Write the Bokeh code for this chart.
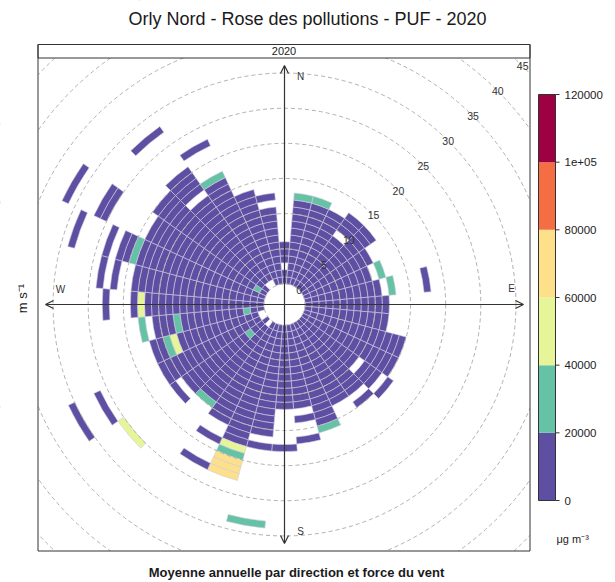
import numpy as np
from bokeh.plotting import figure
from bokeh.models import Range1d, ColumnDataSource, Arrow, OpenHead
from bokeh.core.properties import value
from bokeh.embed import file_html
from bokeh.resources import INLINE

# ---------------- data ----------------
TITLE = "Orly Nord - Rose des pollutions - PUF - 2020"
PANEL = "2020"
FOOTER = "Moyenne annuelle par direction et force du vent"
YLABEL = "m s\u207b\u00b9"
UNITS = "\u03bcg m\u207b\u00b3"

# colour classes of the key (µg m-3) and their colours
breaks = [0, 20000, 40000, 60000, 80000, 100000, 120000]
break_labels = ["0", "20000", "40000", "60000", "80000", "1e+05", "120000"]
palette = ["#5E4FA2", "#66C2A5", "#E6F598", "#FEE08B", "#F46D43", "#9E0142"]

# runs of cells: wind direction sector (deg), first and last wind-speed bin (m/s), mean PUF
seg_wd = [0, 0,
          10, 10, 20, 20, 30, 40, 40, 50, 60, 70, 70, 80, 80, 80, 90, 100, 110, 120,
          130, 130, 130, 140, 140, 150, 160, 160, 170, 170, 170, 180, 180,
          190, 190, 190, 200, 200, 200, 200, 210, 210, 210, 220, 220,
          230, 230, 230, 230, 230, 240, 240, 240, 250, 250, 250, 250,
          260, 260, 260, 260, 260, 260, 270, 270, 270, 270,
          280, 280, 280, 290, 290, 290, 290, 290, 300, 300, 300, 300, 300,
          310, 320, 320, 320, 330, 330, 330, 340, 350, 350]
seg_from = [0, 3,
            0, 12, 0, 12, 0, 0, 10, 0, 0, 0, 11, 0, 12, 17, 0, 0, 0, 0,
            0, 11, 15, 0, 14, 0, 0, 15, 0, 13, 16, 0, 17,
            0, 17, 28, 0, 18, 19, 20, 0, 18, 22, 1, 14,
            0, 3, 4, 16, 25, 1, 26, 30, 1, 13, 14, 15,
            0, 2, 3, 12, 13, 17, 0, 17, 18, 22,
            0, 21, 23, 0, 19, 20, 23, 28, 0, 1, 2, 25, 31,
            0, 1, 17, 27, 1, 17, 22, 0, 0, 12]
seg_to = [1, 5,
          11, 12, 11, 12, 11, 8, 12, 12, 10, 9, 11, 10, 12, 17, 11, 11, 14, 14,
          9, 13, 15, 12, 14, 12, 14, 15, 11, 13, 16, 11, 17,
          15, 17, 28, 17, 18, 19, 22, 15, 18, 22, 13, 14,
          2, 3, 14, 16, 25, 16, 26, 30, 12, 13, 14, 16,
          1, 2, 11, 12, 15, 17, 16, 17, 18, 22,
          18, 21, 23, 18, 19, 21, 23, 28, 0, 1, 18, 26, 31,
          19, 15, 20, 27, 16, 17, 22, 13, 10, 12]
seg_puf = [10000, 10000,
           10000, 30000, 10000, 30000, 10000, 10000, 10000, 10000, 10000, 10000, 30000, 10000, 30000, 10000, 10000, 10000, 10000, 10000,
           10000, 10000, 10000, 10000, 10000, 10000, 10000, 30000, 10000, 10000, 10000, 10000, 10000,
           10000, 10000, 30000, 10000, 50000, 30000, 70000, 10000, 10000, 10000, 10000, 30000,
           10000, 30000, 10000, 10000, 50000, 10000, 10000, 10000, 10000, 50000, 30000, 10000,
           10000, 30000, 10000, 30000, 10000, 30000, 10000, 50000, 10000, 10000,
           10000, 10000, 10000, 10000, 30000, 10000, 10000, 10000, 10000, 30000, 10000, 10000, 10000,
           10000, 10000, 10000, 10000, 10000, 30000, 10000, 10000, 10000, 10000]

grid_ws = [0, 5, 10, 15, 20, 25, 30, 35, 40, 45]
compass = ["N", "E", "S", "W"]

# ---------------- geometry ----------------
S = 492 / 70.0          # pixels per m/s
OFF = 2.93              # inner offset of the rose (m/s units)
W, H = 615, 582


def X(px):
    return (px - 284) / S


def Y(py):
    return (304 - py) / S


FONT = "Liberation Sans"

p = figure(width=W, height=H, x_range=Range1d(X(0), X(W)), y_range=Range1d(Y(H), Y(0)),
           output_backend="svg", toolbar_location=None, min_border=0,
           x_axis_location=None, y_axis_location=None)
p.grid.visible = False
p.outline_line_color = None
p.background_fill_color = "white"
p.border_fill_color = "white"

# ---- cells
inner, outer, start, end, colors = [], [], [], [], []
for wd, a, b, v in zip(seg_wd, seg_from, seg_to, seg_puf):
    ci = min(int(v // 20000), len(palette) - 1)
    for k in range(a, b + 1):
        inner.append(OFF + k)
        outer.append(OFF + k + 1)
        start.append(np.radians(90 - wd - 5))
        end.append(np.radians(90 - wd + 5))
        colors.append(palette[ci])
cells = ColumnDataSource(dict(x=[0] * len(inner), y=[0] * len(inner), inner=inner, outer=outer,
                              start=start, end=end, color=colors))
p.annular_wedge(x="x", y="y", inner_radius="inner", outer_radius="outer",
                start_angle="start", end_angle="end", fill_color="color",
                line_color="#cfcde0", line_width=0.6, source=cells)

# ---- dashed grid circles
p.circle(x=[0] * len(grid_ws), y=[0] * len(grid_ws), radius=[OFF + g for g in grid_ws],
         fill_color=None, line_color="#b0b0b0", line_width=1, line_dash="4 3")

# ---- panel limits
PL, PR, PB, PT = X(37.5), X(529.5), Y(550.5), Y(57.5)
ST = Y(44)

# ---- masks outside the panel
big = 200
p.quad(left=[X(0) - big, PR, X(0) - big, X(0) - big], right=[PL, X(W) + big, X(W) + big, X(W) + big],
       bottom=[Y(H) - big, Y(H) - big, Y(H) - big, PT],
       top=[Y(0) + big, Y(0) + big, PB, Y(0) + big],
       fill_color="white", line_color=None)

# ---- axes with arrows
R_AX = 34.0
for xs, ys, xe, ye in [(0, -R_AX, 0, R_AX), (-R_AX, 0, R_AX, 0)]:
    p.add_layout(Arrow(start=OpenHead(size=8, line_color="#333333", line_width=1.2),
                       end=OpenHead(size=8, line_color="#333333", line_width=1.2),
                       x_start=xs, y_start=ys, x_end=xe, y_end=ye,
                       line_color="#333333", line_width=1.2))

cx = [X(300), X(511), X(300), X(60)]
cy = [Y(76), Y(288), Y(531), Y(289)]
p.text(x=cx, y=cy, text=compass, text_font=value(FONT), text_font_size="10px",
       text_color="#333333", text_align="center", text_baseline="middle")

# ---- wind speed labels along the NE diagonal
lab_r = [OFF + g for g in grid_ws]
p.text(x=[r / np.sqrt(2) for r in lab_r], y=[r / np.sqrt(2) for r in lab_r],
       text=[str(g) for g in grid_ws], text_font=value(FONT), text_font_size="10.5px",
       text_color="#333333", text_align="center", text_baseline="middle")

# ---- panel border and strip
p.quad(left=[PL], right=[PR], bottom=[PT], top=[ST], fill_color="white",
       line_color="#333333", line_width=1)
p.quad(left=[PL], right=[PR], bottom=[PB], top=[ST], fill_color=None,
       line_color="#333333", line_width=1)
p.text(x=[(PL + PR) / 2], y=[(PT + ST) / 2], text=[PANEL], text_font=value(FONT),
       text_font_size="11px", text_color="#222222", text_align="center", text_baseline="middle")

# ---- colour key
CB_L, CB_R, CB_B, CB_T = X(538), X(555), Y(500), Y(94)
ky = [CB_B + (b - breaks[0]) / (breaks[-1] - breaks[0]) * (CB_T - CB_B) for b in breaks]
p.quad(left=[CB_L] * len(palette), right=[CB_R] * len(palette), bottom=ky[:-1], top=ky[1:],
       fill_color=palette, line_color=None)
p.quad(left=[CB_L], right=[CB_R], bottom=[CB_B], top=[CB_T], fill_color=None,
       line_color="#333333", line_width=1)
p.segment(x0=[CB_R] * len(ky), y0=ky, x1=[X(559)] * len(ky), y1=ky, line_color="#333333", line_width=1)
p.text(x=[X(564)] * len(ky), y=ky, text=break_labels, text_font=value(FONT), text_font_size="11.5px",
       text_color="#222222", text_align="left", text_baseline="middle")
p.text(x=[X(556)], y=[Y(538)], text=[UNITS], text_font=value(FONT), text_font_size="11px",
       text_color="#222222", text_align="left", text_baseline="middle")

# ---- titles
p.text(x=[X(307)], y=[Y(18)], text=[TITLE], text_font=value(FONT), text_font_size="18px",
       text_color="#1a1a1a", text_align="center", text_baseline="middle")
p.text(x=[X(296)], y=[Y(572)], text=[FOOTER], text_font=value(FONT), text_font_size="13px",
       text_font_style="bold", text_color="#1a1a1a", text_align="center", text_baseline="middle")
p.text(x=[X(22)], y=[Y(298)], text=[YLABEL], angle=np.pi / 2, text_font=value(FONT),
       text_font_size="13px", text_color="#1a1a1a", text_align="center", text_baseline="middle")

open("out.html", "w").write(file_html(p, INLINE))
